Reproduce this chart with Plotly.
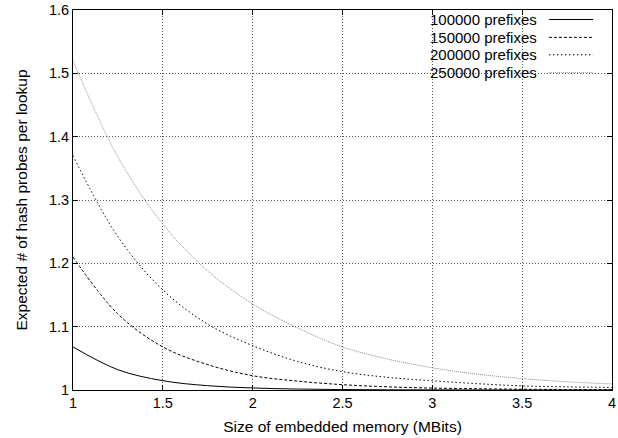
import plotly.graph_objects as go

# Data
memory_mbits = [1.0, 1.25, 1.5, 1.75, 2.0, 2.25, 2.5, 2.75, 3.0, 3.25, 3.5, 3.75, 4.0]

probes_100k = [1.068, 1.032, 1.0147, 1.0068, 1.0032, 1.0015, 1.0007, 1.0003, 1.0002, 1.0001, 1.0, 1.0, 1.0]
probes_150k = [1.210, 1.120, 1.068, 1.040, 1.0226, 1.014, 1.0084, 1.005, 1.003, 1.002, 1.0012, 1.0008, 1.0005]
probes_200k = [1.370, 1.242, 1.158, 1.104, 1.070, 1.045, 1.029, 1.020, 1.0145, 1.010, 1.0065, 1.005, 1.004]
probes_250k = [1.520, 1.368, 1.262, 1.188, 1.136, 1.098, 1.068, 1.049, 1.035, 1.025, 1.018, 1.013, 1.0095]

series_names = ["100000 prefixes", "150000 prefixes", "200000 prefixes", "250000 prefixes"]
series_values = [probes_100k, probes_150k, probes_200k, probes_250k]

x_ticks = [1, 1.5, 2, 2.5, 3, 3.5, 4]
x_tick_labels = ["1", "1.5", "2", "2.5", "3", "3.5", "4"]
y_ticks = [1, 1.1, 1.2, 1.3, 1.4, 1.5, 1.6]
y_tick_labels = ["1", "1.1", "1.2", "1.3", "1.4", "1.5", "1.6"]

styles = [
    dict(color="black", dash="solid", width=1),
    dict(color="black", dash="3px,2px", width=1),
    dict(color="black", dash="1.5px,2.5px", width=1),
    dict(color="#8a8a8a", dash="1px,1px", width=1),
]

FONT = "Liberation Sans, Arial, Helvetica, sans-serif"
TICK_FS = 14.5
TITLE_FS = 15.5
LEG_FS = 15

fig = go.Figure()
for name, vals, st in zip(series_names, series_values, styles):
    fig.add_trace(go.Scatter(
        x=memory_mbits, y=vals, mode="lines", name=name,
        line=dict(color=st["color"], dash=st["dash"], width=st["width"],
                  shape="spline", smoothing=1.0),
        showlegend=False,
    ))

axis_common = dict(
    showline=True, linecolor="black", linewidth=1, mirror="ticks",
    ticks="inside", ticklen=5, tickcolor="black", tickwidth=1,
    showgrid=True, gridcolor="#555555", griddash="1px,2px", gridwidth=1,
    zeroline=False, tickfont=dict(family=FONT, size=TICK_FS, color="black"),
)

fig.update_layout(
    width=618, height=438,
    margin=dict(l=73, r=6, t=10, b=48, autoexpand=False),
    paper_bgcolor="white", plot_bgcolor="white",
    font=dict(family=FONT, size=TICK_FS, color="black"),
    xaxis=dict(range=[1, 4], tickvals=x_ticks, ticktext=x_tick_labels,
               title=dict(text="Size of embedded memory (MBits)", standoff=10,
                          font=dict(family=FONT, size=TITLE_FS, color="black")),
               **axis_common),
    yaxis=dict(range=[1, 1.6], tickvals=y_ticks, ticktext=y_tick_labels,
               title=dict(text="Expected # of hash probes per lookup", standoff=17,
                          font=dict(family=FONT, size=TITLE_FS, color="black")),
               **axis_common),
)

# Manual gnuplot-style legend: opaque box, right-aligned text, sample line on the right
fig.add_shape(type="rect", xref="paper", yref="paper",
              x0=0.603, x1=0.997, y0=0.816, y1=0.997,
              fillcolor="white", line=dict(width=0), layer="between")

row_y = [0.975, 0.928, 0.882, 0.835]
for name, st, yy in zip(series_names, styles, row_y):
    fig.add_annotation(xref="paper", yref="paper", x=0.8646, y=yy,
                       text=name, showarrow=False, xanchor="right", yanchor="middle",
                       font=dict(family=FONT, size=LEG_FS, color="black"))
    fig.add_shape(type="line", xref="paper", yref="paper",
                  x0=0.883, x1=0.965, y0=yy, y1=yy,
                  line=dict(color=st["color"], dash=st["dash"], width=st["width"]))

fig.write_html("out.html",
               config={"displayModeBar": False},
               post_script="document.body.style.margin='0';document.body.style.padding='0';")
